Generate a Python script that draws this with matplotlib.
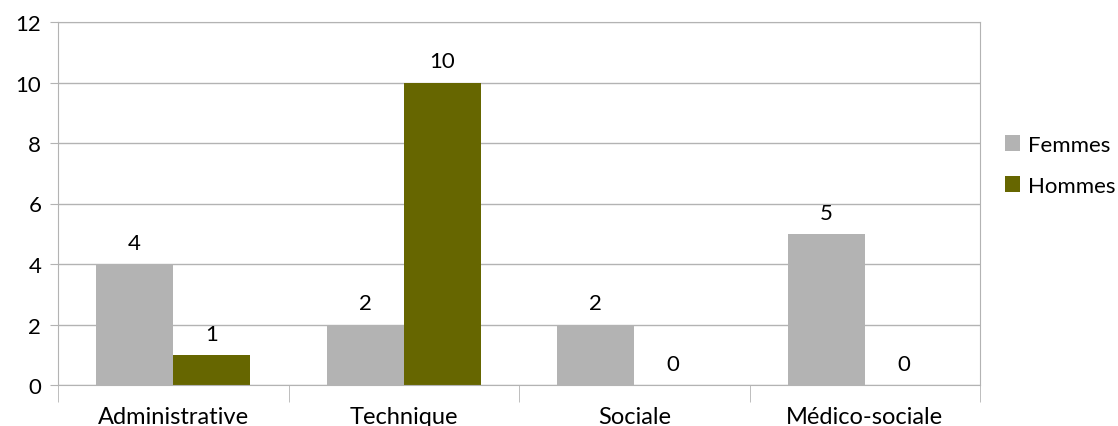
import numpy as np
import matplotlib.pyplot as plt

categories = ["Administrative", "Technique", "Sociale", "Médico-sociale"]
femmes = [4, 2, 2, 5]
hommes = [1, 10, 0, 0]

plt.rcParams['font.family'] = ['Lato', 'DejaVu Sans']

fig = plt.figure(figsize=(11.18, 4.27), dpi=100)
ax = fig.add_axes([58 / 1118, 1 - 386 / 427, 922 / 1118, 363 / 427])

x = np.arange(len(categories))
w = 0.335
b1 = ax.bar(x - w / 2, femmes, w, color="#b3b3b3", label="Femmes", zorder=2)
b2 = ax.bar(x + w / 2, hommes, w, color="#666600", label="Hommes", zorder=2)
for bars in (b1, b2):
    ax.bar_label(bars, padding=8, fontsize=16)

ax.set_xlim(-0.5, len(categories) - 0.5)
ax.set_ylim(0, 12)
ax.set_yticks(range(0, 13, 2))
ax.tick_params(axis="y", labelsize=16, length=6, color="#b3b3b3", pad=6)
ax.set_xticks(x)
ax.set_xticklabels(categories, fontsize=17)
ax.tick_params(axis="x", length=0, pad=15)
ax.set_xticks(np.arange(-0.5, len(categories), 1), minor=True)
ax.tick_params(axis="x", which="minor", length=12, color="#b3b3b3")
ax.yaxis.grid(True, color="#b3b3b3", linewidth=1, zorder=0)
for s in ax.spines.values():
    s.set_color("#b3b3b3")

ax.legend(loc="center left", bbox_to_anchor=(1.005, 0.605), frameon=False,
          fontsize=16, handlelength=0.7, handleheight=0.7, handletextpad=0.35,
          labelspacing=0.95)

fig.savefig("out.png", dpi=100)
